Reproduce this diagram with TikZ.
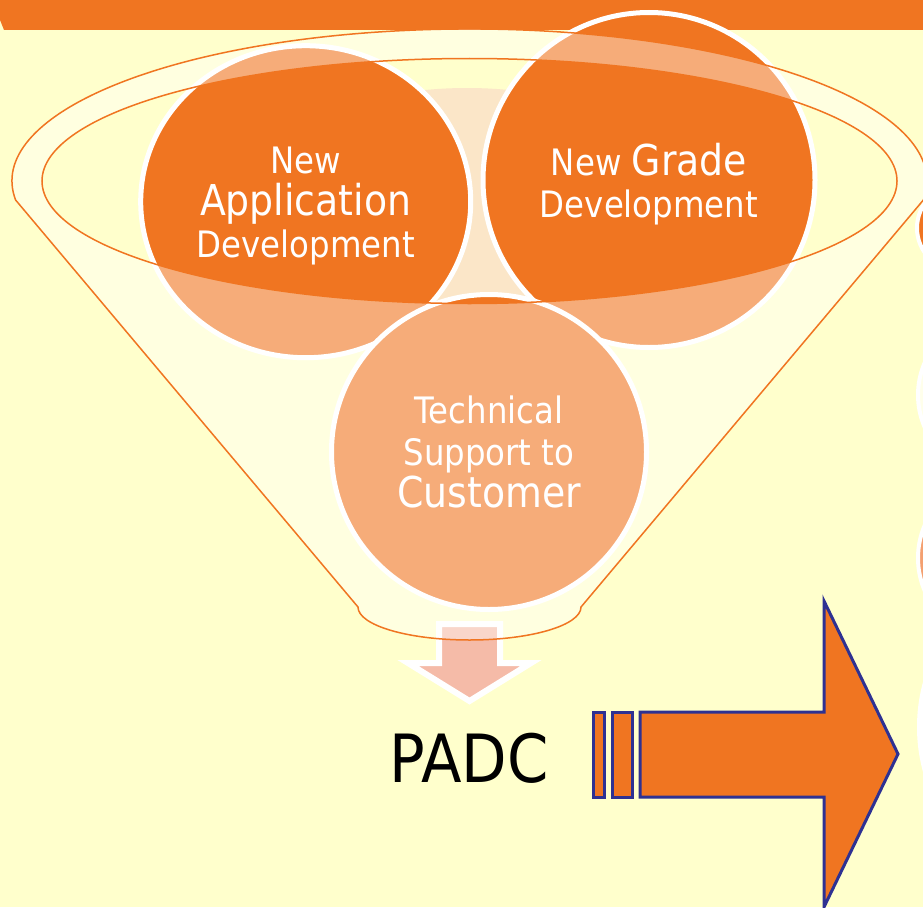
\documentclass[tikz,border=0pt]{standalone}
\usepackage{fontspec}
\setmainfont[FakeStretch=0.89]{DejaVu Sans}
\usetikzlibrary{shapes.geometric}
\definecolor{paper}{HTML}{FFFFCC}
\definecolor{brand}{HTML}{F07521}
\definecolor{throat}{HTML}{FBE6C8}
\definecolor{flow}{HTML}{F5BBA8}
\definecolor{ink}{HTML}{2E3192}
\definecolor{peach}{HTML}{F4A070}
\tikzset{
  bubble/.style={ellipse, draw=white, line width=5, fill=brand, inner sep=0pt},
  bubbletext/.style={text=white, align=center, inner sep=0pt,
    font=\fontsize{36.4}{42}\selectfont},
  rim/.style={draw=brand, line width=1.5},
  bigarrow/.style={draw=ink, line width=3, fill=brand, line join=miter},
}
\newcommand{\largeword}[1]{{\fontsize{42.5}{42}\selectfont #1}}
\begin{document}
\begin{tikzpicture}[x=1pt,y=-1pt]
\useasboundingbox (0,0) rectangle (923,907);
\clip (0,0) rectangle (923,907);
% page and title band
\fill[paper] (0,0) rectangle (923,907);
\fill[brand] (0,0) -- (923,0) -- (923,30) -- (4,30) -- (0,20) -- cycle;

% inside of the funnel mouth
\begin{scope}
  \clip (469.5,181) ellipse [x radius=427.5, y radius=122.5];
  \fill[throat] (467,200) ellipse [x radius=220, y radius=112];
\end{scope}

% the three inputs
\node[bubble, minimum width=330, minimum height=312] (app) at (305.7,201.7) {};
\node[bubble, minimum width=332, minimum height=335] (grade) at (649,180) {};
\node[bubble, minimum width=315, minimum height=315] (tech) at (489,452) {};
\node[bubbletext] (app-text) at ([yshift=-4]app.center)
  {New\\\largeword{Application}\\Development};
\node[bubbletext] (grade-text) at ([yshift=-4]grade.center)
  {New \largeword{Grade}\\Development};
\node[bubbletext] (tech-text) at (tech.center)
  {Technical\\Support to\\\largeword{Customer}};

% output arrow under the funnel
\draw[white, line width=6, fill=flow, line join=miter]
  (439,624) -- (500,624) -- (500,663) -- (531,663) -- (469.5,701)
  -- (408,663) -- (439,663) -- cycle;

% funnel body, translucent, with the open mouth left clear
\fill[white, fill opacity=0.4, even odd rule]
  (15.6,200) arc [start angle=172.8, end angle=367.2, x radius=457.5, y radius=152]
  -- (581,607) arc [start angle=0, end angle=180, x radius=111.5, y radius=33]
  -- cycle
  (469.5,181) ellipse [x radius=427.5, y radius=122.5];
\draw[rim]
  (15.6,200) arc [start angle=172.8, end angle=367.2, x radius=457.5, y radius=152]
  -- (581,607) arc [start angle=0, end angle=180, x radius=111.5, y radius=33]
  -- cycle;
\draw[rim] (469.5,181) ellipse [x radius=427.5, y radius=122.5];

% result label
\node[font=\fontsize{66.5}{66.5}\selectfont, anchor=base, inner sep=0pt] (padc) at (469,782) {PADC};

% striped block arrow
\draw[bigarrow] (593,712) rectangle (604,797);
\draw[bigarrow] (612,712) rectangle (632,797);
\draw[bigarrow] (640,712) -- (824,712) -- (824,601) -- (898,754) -- (824,907)
  -- (824,797) -- (640,797) -- cycle;

% circles entering from the right edge
\draw[white, line width=4, fill=brand] (960,228) circle [radius=43];
\draw[white, line width=4, fill=paper!40!white] (999,395) circle [radius=81];
\draw[white, line width=4, fill=peach] (1001,558) circle [radius=83];
\draw[white, line width=4, fill=white] (1087,727) circle [radius=168];
\end{tikzpicture}
\end{document}
